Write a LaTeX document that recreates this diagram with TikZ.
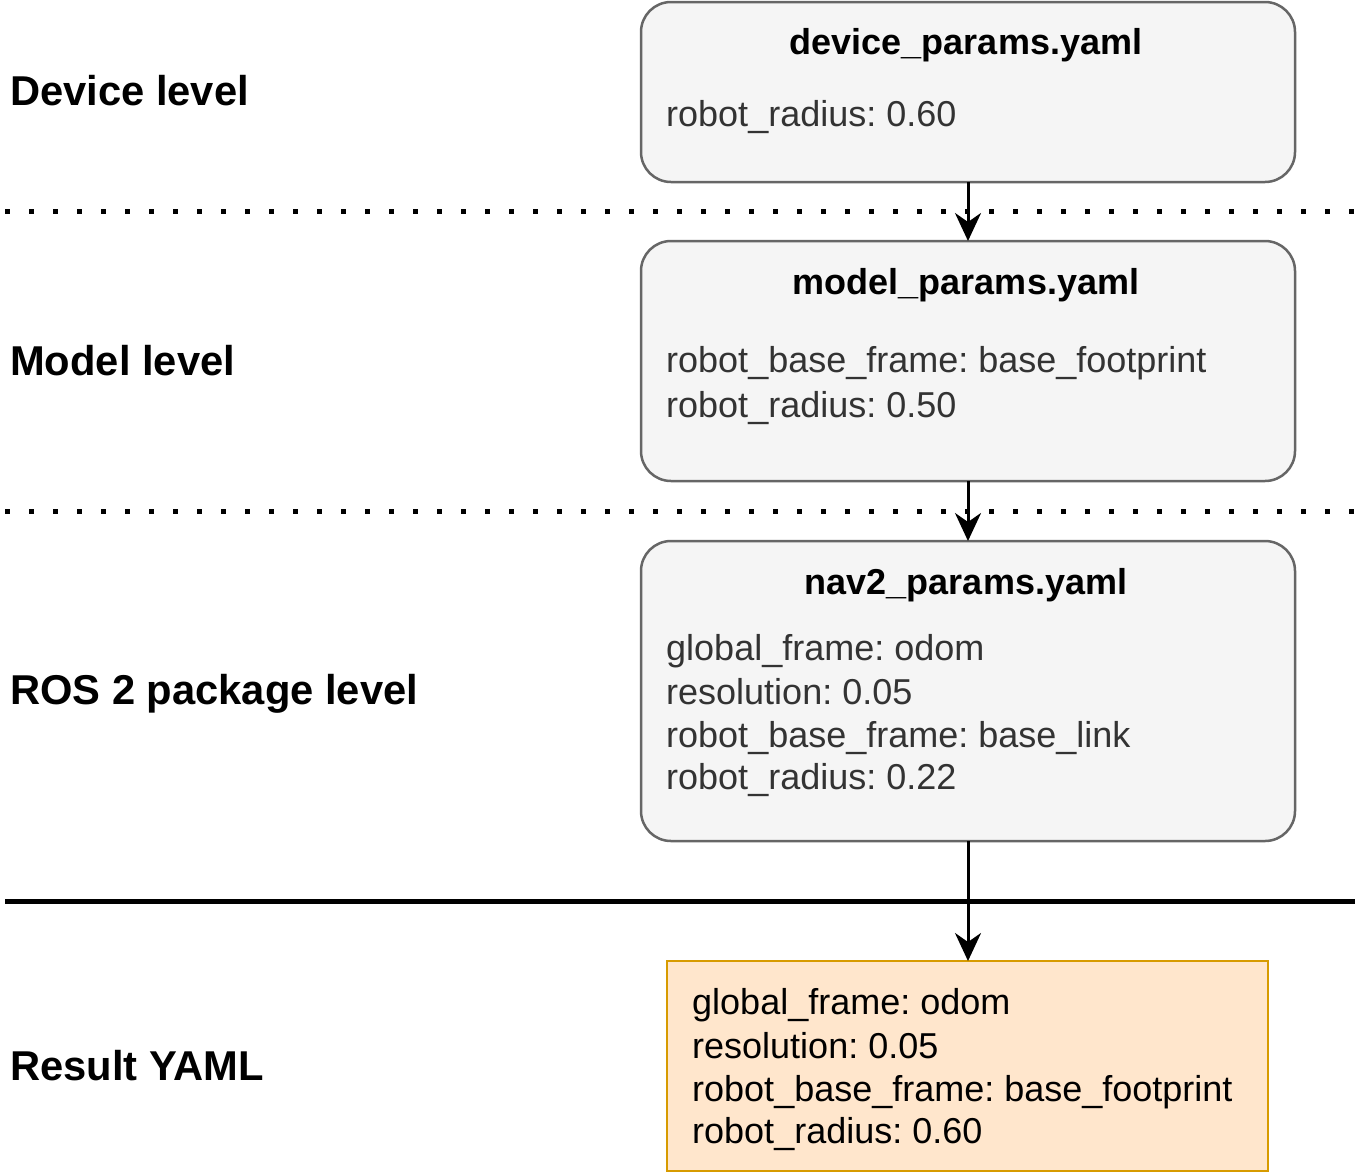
\documentclass[tikz,border=0pt]{standalone}
\usepackage{fontspec}
\setmainfont{Liberation Sans}
\usetikzlibrary{arrows.meta}
\frenchspacing
\definecolor{boxfill}{HTML}{F5F5F5}
\definecolor{boxline}{HTML}{666666}
\definecolor{boxtext}{HTML}{333333}
\definecolor{resfill}{HTML}{FFE6CC}
\definecolor{resline}{HTML}{D79B00}
\tikzset{
  x=1pt,y=-1pt,
  parambox/.style={draw=boxline,fill=boxfill,line width=2.5pt,rounded corners=30pt},
  resbox/.style={draw=resline,fill=resfill,line width=2.5pt},
  title/.style={font=\fontsize{36}{40}\selectfont\bfseries\frenchspacing,text=black,inner sep=0pt},
  ptext/.style={font=\fontsize{36}{42}\selectfont\frenchspacing,text=boxtext,inner sep=0pt,anchor=west,align=left},
  rtext/.style={font=\fontsize{36}{42}\selectfont\frenchspacing,text=black,inner sep=0pt,anchor=west,align=left},
  level/.style={font=\fontsize{41.7}{46}\selectfont\bfseries\frenchspacing,text=black,inner sep=0pt,anchor=west},
  sep/.style={line width=5pt,dash pattern=on 5pt off 19pt},
  flow/.style={line width=3pt,-{Stealth[length=28pt,width=26pt,inset=9pt]}}
}
\begin{document}
\begin{tikzpicture}
\useasboundingbox (0,0) rectangle (1359,1173);
% separators
\draw[sep] (5,211) -- (1359,211);
\draw[sep] (5,511) -- (1359,511);
\draw[line width=5pt] (5,901) -- (1355,901);
% boxes
\draw[parambox] (641,2) rectangle (1295,182);
\coordinate (b1top) at (968,2);
\coordinate (b1bot) at (968,182);
\draw[parambox] (641,241) rectangle (1295,481);
\coordinate (b2top) at (968,241);
\coordinate (b2bot) at (968,481);
\draw[parambox] (641,541) rectangle (1295,841);
\coordinate (b3top) at (968,541);
\coordinate (b3bot) at (968,841);
\draw[resbox] (667,961) rectangle (1268,1171);
\coordinate (b4top) at (968,961);
% texts
\node[title] (t1) at (966,45) {device\_params.yaml};
\node[ptext] (p1) at (666,117) {robot\_radius: 0.60};
\node[title] (t2) at (966,285) {model\_params.yaml};
\node[ptext] (p2a) at (666,363) {robot\_base\_frame: base\_footprint};
\node[ptext] (p2b) at (666,408) {robot\_radius: 0.50};
\node[title] (t3) at (966,585) {nav2\_params.yaml};
\node[ptext] (p3a) at (666,651) {global\_frame: odom};
\node[ptext] (p3b) at (666,692) {resolution: 0.05};
\node[ptext] (p3c) at (666,738) {robot\_base\_frame: base\_link};
\node[ptext] (p3d) at (666,780) {robot\_radius: 0.22};
\node[rtext] (r1) at (692,1005) {global\_frame: odom};
\node[rtext] (r2) at (692,1046) {resolution: 0.05};
\node[rtext] (r3) at (692,1092) {robot\_base\_frame: base\_footprint};
\node[rtext] (r4) at (692,1134) {robot\_radius: 0.60};
% level labels
\node[level] (l1) at (10,91) {Device level};
\node[level] (l2) at (10,361) {Model level};
\node[level] (l3) at (10,694) {ROS 2 package level};
\node[level] (l4) at (10,1066) {Result YAML};
% arrows
\draw[flow] (b1bot) -- (b2top);
\draw[flow] (b2bot) -- (b3top);
\draw[flow] (b3bot) -- (b4top);
\end{tikzpicture}
\end{document}
